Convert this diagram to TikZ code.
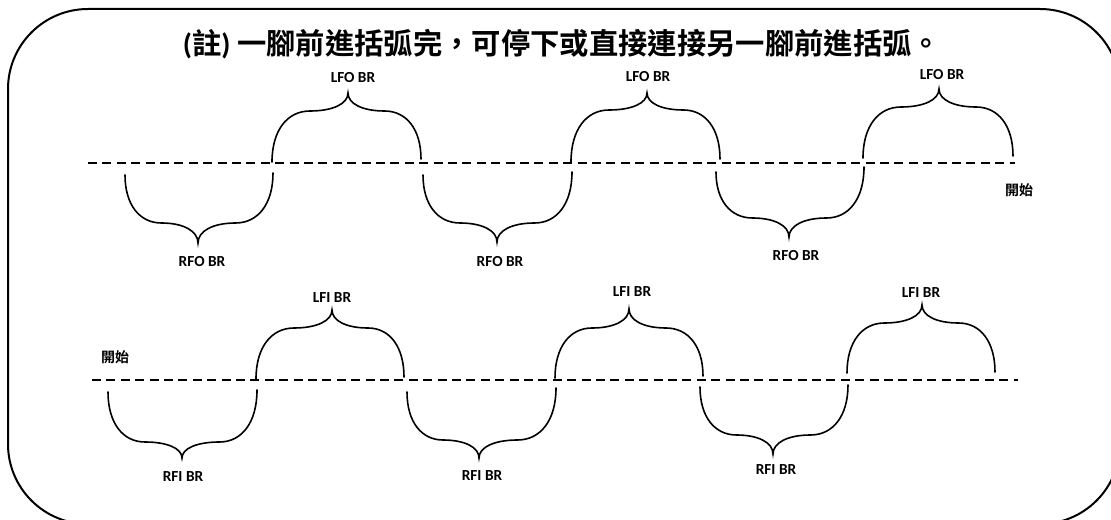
\documentclass[tikz,border=0pt]{standalone}
\usepackage{fontspec}
\setmainfont{Carlito}
\newfontfamily\cjkfont{Noto Sans CJK TC}[BoldFont={Noto Sans CJK TC Bold}]
\newfontfamily\latinb{Carlito}
\newcommand\mybrace[7]{%
  \pgfmathsetmacro\qa{(#1+#5)/2}%
  \pgfmathsetmacro\qb{(#3+#5)/2}%
  \draw[bracestyle] (#1,#2) .. controls (#1,{#2+0.62*(#7-#2)}) and ({\qa-0.6*(\qa-#1)},#7) .. (\qa,#7)
    .. controls ({\qa+0.6*(#5-\qa)},#7) and (#5,{#6+0.6*(#7-#6)}) .. (#5,#6)
    .. controls (#5,{#6+0.6*(#7-#6)}) and ({\qb-0.6*(\qb-#5)},#7) .. (\qb,#7)
    .. controls ({\qb+0.6*(#3-\qb)},#7) and (#3,{#4+0.62*(#7-#4)}) .. (#3,#4);%
}
\begin{document}
\begin{tikzpicture}[x=0.75pt,y=-0.75pt,
  bracestyle/.style={line width=1.2pt,line cap=round},
  dashline/.style={line width=1.6pt,dash pattern=on 6.8pt off 4pt},
  frame/.style={line width=1.5pt,rounded corners=60pt},
  lbl/.style={font=\latinb\bfseries\fontsize{11.5}{13}\selectfont,inner sep=0pt},
  startlbl/.style={font=\cjkfont\bfseries\fontsize{10.5}{12}\selectfont,inner sep=0pt},
  titlestyle/.style={font=\cjkfont\bfseries\fontsize{22}{25}\selectfont,inner sep=0pt}]
\useasboundingbox (0,0) rectangle (1111,520);
\clip (0,0) rectangle (1111,520);
\draw[frame] (8,9) rectangle (1120,524);
\node[titlestyle] (title) at (562,44) {{\latinb\bfseries(}註{\latinb\bfseries)} 一腳前進括弧完，可停下或直接連接另一腳前進括弧。};
% top row
\coordinate (ta) at (88,163);
\coordinate (tb) at (1015,163);
\draw[dashline] (ta) -- (tb);
\mybrace{125}{175}{273}{173}{198}{243}{223}
\mybrace{272}{162}{421}{159}{348}{93}{111}
\mybrace{423}{175}{572}{172}{497}{242}{223}
\mybrace{571}{162}{720}{159}{647}{93}{110}
\mybrace{716}{172}{864}{167}{789}{237}{218}
\mybrace{863}{158}{1013}{156}{939}{89}{107}
\node[lbl] (lfo1) at (353,78) {LFO BR};
\node[lbl] (lfo2) at (648,77) {LFO BR};
\node[lbl] (lfo3) at (942,75) {LFO BR};
\node[lbl] (rfo1) at (202,262) {RFO BR};
\node[lbl] (rfo2) at (500,262) {RFO BR};
\node[lbl] (rfo3) at (796,256) {RFO BR};
\node[startlbl] (start1) at (1019,190) {開始};
% bottom row
\coordinate (ba) at (92,380);
\coordinate (bb) at (1018,380);
\draw[dashline] (ba) -- (bb);
\mybrace{108}{392}{257}{390}{182}{458}{442}
\mybrace{256}{379}{404}{377}{332}{310}{328}
\mybrace{407}{392}{556}{388}{479}{458}{440}
\mybrace{555}{378}{703}{376}{629}{309}{328}
\mybrace{700}{387}{848}{385}{773}{454}{435}
\mybrace{847}{373}{995}{372}{922}{305}{323}
\node[lbl] (lfi1) at (332,298) {LFI BR};
\node[lbl] (lfi2) at (632,292) {LFI BR};
\node[lbl] (lfi3) at (921,293) {LFI BR};
\node[lbl] (rfi1) at (183,477) {RFI BR};
\node[lbl] (rfi2) at (482,476) {RFI BR};
\node[lbl] (rfi3) at (776,470) {RFI BR};
\node[startlbl] (start2) at (115,357) {開始};
\end{tikzpicture}
\end{document}
